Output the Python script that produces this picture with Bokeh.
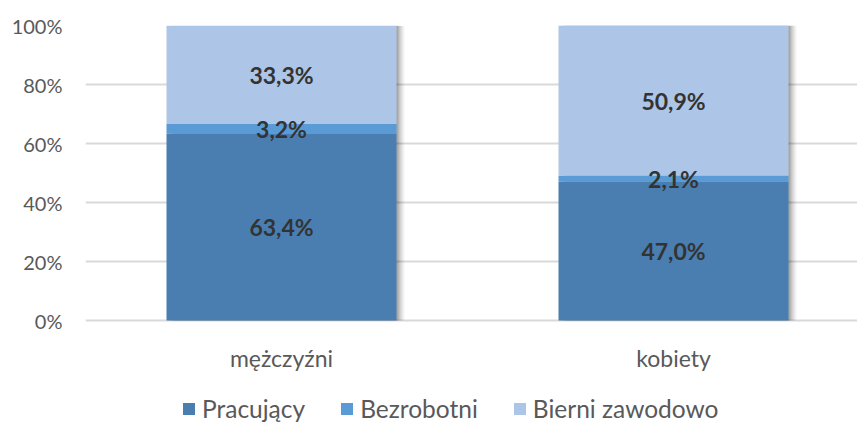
from bokeh.plotting import figure
from bokeh.models import (ColumnDataSource, FixedTicker, NumeralTickFormatter,
                          Legend, LegendItem, Range1d)
from bokeh.core.properties import value
from bokeh.embed import file_html
from bokeh.resources import INLINE

categories = ["mężczyźni", "kobiety"]
series = ["Pracujący", "Bezrobotni", "Bierni zawodowo"]
pracujacy = [63.4, 47.0]
bezrobotni = [3.2, 2.1]
bierni = [33.3, 50.9]
colors = ["#4A7EB0", "#5B9BD5", "#ADC5E6"]
y_ticks = [0, 0.2, 0.4, 0.6, 0.8, 1.0]

FONT = "Lato"
PX_PER_UNIT = 392.0
PX_PER_Y = 295.0
FRAME_W = 772
FRAME_H = 398
BAR_W = 230 / PX_PER_UNIT

xs = list(range(len(categories)))
data = {"x": xs,
        "Pracujący": [v / 100 for v in pracujacy],
        "Bezrobotni": [v / 100 for v in bezrobotni],
        "Bierni zawodowo": [v / 100 for v in bierni]}
totals = [a + b + c for a, b, c in zip(data["Pracujący"], data["Bezrobotni"], data["Bierni zawodowo"])]
src = ColumnDataSource(data)

p = figure(frame_width=FRAME_W, frame_height=FRAME_H,
           output_backend="svg", toolbar_location=None, x_axis_location=None,
           x_range=Range1d(-0.5, -0.5 + FRAME_W / PX_PER_UNIT),
           y_range=Range1d(1 - FRAME_H / PX_PER_Y, 1),
           min_border_left=85, min_border_right=0, min_border_top=25,
           min_border_bottom=0, outline_line_color=None)

# shadow
for off, a in [(8, 0.05), (6, 0.08), (4, 0.11), (2, 0.15)]:
    sx = [x + off / PX_PER_UNIT for x in xs]
    p.vbar(x=sx, top=totals, bottom=0,
           width=BAR_W, fill_color="#000000", fill_alpha=a, line_color=None)

rs = p.vbar_stack(series, x="x", width=BAR_W, source=src, color=colors, line_color=None)

# value labels
lx, ly, lt = [], [], []
for i in xs:
    base = 0.0
    for s, raw in zip(series, [pracujacy, bezrobotni, bierni]):
        v = data[s][i]
        lx.append(i)
        ly.append(base + v / 2)
        lt.append(f"{raw[i]:.1f}%".replace(".", ","))
        base += v
p.text(x=lx, y=ly, text=lt, text_align="center", text_baseline="middle",
       text_font=value(FONT), text_font_style="bold", text_font_size="23px",
       text_color="#333333")

# category labels (below the 0% line)
p.text(x=xs, y=[-37 / PX_PER_Y] * len(xs), text=categories, text_align="center",
       text_baseline="middle", text_font=value(FONT), text_font_size="23px",
       text_color="#595959")

# y axis
p.yaxis.ticker = FixedTicker(ticks=y_ticks)
p.yaxis.formatter = NumeralTickFormatter(format="0%")
p.yaxis.axis_line_color = None
p.yaxis.major_tick_line_color = None
p.yaxis.minor_tick_line_color = None
p.yaxis.major_label_text_font = FONT
p.yaxis.major_label_text_font_size = "20px"
p.yaxis.major_label_text_color = "#595959"
p.yaxis.major_label_standoff = 17

p.xgrid.grid_line_color = None
p.ygrid.ticker = FixedTicker(ticks=y_ticks)
p.ygrid.grid_line_color = "#D9D9D9"
p.ygrid.grid_line_width = 2

legend = Legend(items=[LegendItem(label=s, renderers=[r]) for s, r in zip(series, rs)],
                orientation="horizontal", location=(96, 0),
                label_text_font=FONT, label_text_font_size="24.5px",
                label_text_color="#595959", glyph_width=15, glyph_height=15,
                label_standoff=6, spacing=34, border_line_color=None,
                background_fill_alpha=0, padding=0, margin=0)
p.add_layout(legend, "center")

open("out.html", "w").write(file_html(p, INLINE))
